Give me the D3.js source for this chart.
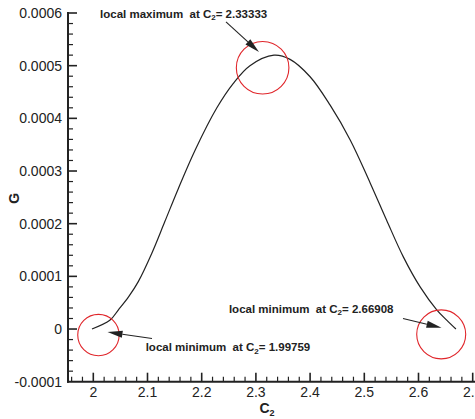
<!DOCTYPE html>
<html>
<head>
<meta charset="utf-8">
<script src="https://cdn.jsdelivr.net/npm/d3@7"></script>
<style>
  html, body { margin: 0; padding: 0; background: #fff; }
  svg { display: block; }
  text { font-family: "Liberation Sans", Arial, Helvetica, sans-serif; fill: #222; white-space: pre; }
</style>
</head>
<body>
<svg id="chart" width="475" height="419"></svg>
<script>
// ---- data ----
const c2Values = [1.99759, 2.031, 2.046, 2.065, 2.083, 2.108, 2.132, 2.157, 2.188, 2.228, 2.258, 2.289, 2.33333, 2.363, 2.400, 2.437, 2.474, 2.511, 2.541, 2.572, 2.603, 2.634, 2.652, 2.66908];
const gValues  = [0, 0.000017, 0.000036, 0.000061, 0.000090, 0.000144, 0.000204, 0.000267, 0.000340, 0.000420, 0.000466, 0.000500, 0.000520, 0.000512, 0.000479, 0.000425, 0.000359, 0.000277, 0.000207, 0.000137, 0.000080, 0.000036, 0.000017, 0];

const xMajorTicks = [2.0, 2.1, 2.2, 2.3, 2.4, 2.5, 2.6, 2.7];
const xTickLabels = ["2", "2.1", "2.2", "2.3", "2.4", "2.5", "2.6", "2.7"];
const yMajorTicks = [-0.0001, 0, 0.0001, 0.0002, 0.0003, 0.0004, 0.0005, 0.0006];
const yTickLabels = ["-0.0001", "0", "0.0001", "0.0002", "0.0003", "0.0004", "0.0005", "0.0006"];

// annotations (data coordinates)
const extremaLabels = ["local minimum  at C", "local maximum  at C", "local minimum  at C"];
const extremaValues = ["1.99759", "2.33333", "2.66908"];
const circleCenters = [[2.0095, -0.0000114], [2.3124, 0.000496], [2.6419, -0.0000101]];
const circleRadii   = [0.0382, 0.0485, 0.0452];           // in c2 units
const arrowTails    = [[2.1083, -0.0000180], [2.2448, 0.000583], [2.5714, 0.0000199]];
const arrowTips     = [[2.0262, -0.0000057], [2.3057, 0.000526], [2.6424, 0.0000025]];
const labelAnchors  = [[2.0966, -0.0000418], [2.0124, 0.000591], [2.2502, 0.0000313]];

// ---- scales ----
const svg = d3.select("#chart");
const x = d3.scaleLinear().domain([2.0, 2.7]).range([93.3, 472.7]);
const y = d3.scaleLinear().domain([-0.0001, 0.0006]).range([381.7, 13]);

const ink = "#222";

// ---- curve ----
const pts = c2Values.map((c, i) => [c, gValues[i]]);
svg.append("path")
  .datum(pts)
  .attr("fill", "none")
  .attr("stroke", ink)
  .attr("stroke-width", 1.2)
  .attr("d", d3.line().x(d => x(d[0])).y(d => y(d[1])).curve(d3.curveCatmullRom.alpha(0.5)));

// ---- red circles ----
svg.selectAll("circle.mark")
  .data(circleCenters)
  .join("circle")
  .attr("class", "mark")
  .attr("cx", d => x(d[0]))
  .attr("cy", d => y(d[1]))
  .attr("r", (d, i) => x(d[0] + circleRadii[i]) - x(d[0]))
  .attr("fill", "none")
  .attr("stroke", "#e0262b")
  .attr("stroke-width", 1.1);

// ---- arrows ----
arrowTails.forEach((t, i) => {
  const x0 = x(t[0]), y0 = y(t[1]);
  const x1 = x(arrowTips[i][0]), y1 = y(arrowTips[i][1]);
  const ang = Math.atan2(y1 - y0, x1 - x0);
  const L = 15, W = 3.6;
  const bx = x1 - L * Math.cos(ang), by = y1 - L * Math.sin(ang);
  svg.append("line")
    .attr("x1", x0).attr("y1", y0).attr("x2", bx).attr("y2", by)
    .attr("stroke", ink).attr("stroke-width", 1.1);
  const p = [
    [x1, y1],
    [bx + W * Math.sin(ang), by - W * Math.cos(ang)],
    [bx - W * Math.sin(ang), by + W * Math.cos(ang)]
  ];
  svg.append("path").attr("d", "M" + p.map(q => q.join(",")).join("L") + "Z").attr("fill", ink);
});

// ---- annotation labels ----
labelAnchors.forEach((a, i) => {
  const t = svg.append("text")
    .attr("x", x(a[0])).attr("y", y(a[1]))
    .attr("font-size", "11.5px").attr("font-weight", "bold");
  t.append("tspan").text(extremaLabels[i]);
  t.append("tspan").attr("font-size", "8px").attr("dy", "2.5").text("2");
  t.append("tspan").attr("dy", "-2.5").text("= " + extremaValues[i]);
});

// ---- axes ----
const axisG = svg.append("g").attr("stroke", ink);
axisG.append("line").attr("x1", 68).attr("x2", 68).attr("y1", y(0.0006) - 1).attr("y2", 382.7).attr("stroke-width", 2);
axisG.append("line").attr("x1", 67).attr("x2", 475).attr("y1", 381.7).attr("y2", 381.7).attr("stroke-width", 2);

// y ticks
const yMinor = d3.range(-0.0001, 0.00060001, 0.00002);
yMinor.forEach(v => {
  const isMajor = yMajorTicks.some(m => Math.abs(m - v) < 1e-9);
  if (Math.abs(v + 0.0001) < 1e-9) return;
  axisG.append("line").attr("x1", 68).attr("x2", 68 + (isMajor ? 9 : 5))
    .attr("y1", y(v)).attr("y2", y(v)).attr("stroke-width", isMajor ? 1.6 : 1.2);
});
// x ticks
const xMinor = d3.range(1.96, 2.7001, 0.02);
xMinor.forEach(v => {
  const isMajor = xMajorTicks.some(m => Math.abs(m - v) < 1e-9);
  axisG.append("line").attr("x1", x(v)).attr("x2", x(v))
    .attr("y1", 381.7).attr("y2", 381.7 - (isMajor ? 9 : 5)).attr("stroke-width", isMajor ? 1.6 : 1.2);
});

// tick labels
svg.selectAll("text.ylab").data(yMajorTicks).join("text")
  .attr("class", "ylab")
  .attr("x", 62).attr("y", d => y(d)).attr("dy", "0.36em")
  .attr("text-anchor", "end").attr("font-size", "14px")
  .text((d, i) => yTickLabels[i]);
svg.selectAll("text.xlab").data(xMajorTicks).join("text")
  .attr("class", "xlab")
  .attr("x", d => x(d)).attr("y", 397)
  .attr("text-anchor", "middle").attr("font-size", "14px")
  .text((d, i) => xTickLabels[i]);

// axis titles
const xt = svg.append("text").attr("x", 267).attr("y", 413.3)
  .attr("text-anchor", "middle").attr("font-size", "14px").attr("font-weight", "bold");
xt.append("tspan").text("C");
xt.append("tspan").attr("font-size", "9px").attr("dy", "3").text("2");

svg.append("text").attr("transform", "translate(18.5,198.3) rotate(-90)")
  .attr("text-anchor", "middle").attr("font-size", "14px").attr("font-weight", "bold")
  .text("G");
</script>
</body>
</html>
